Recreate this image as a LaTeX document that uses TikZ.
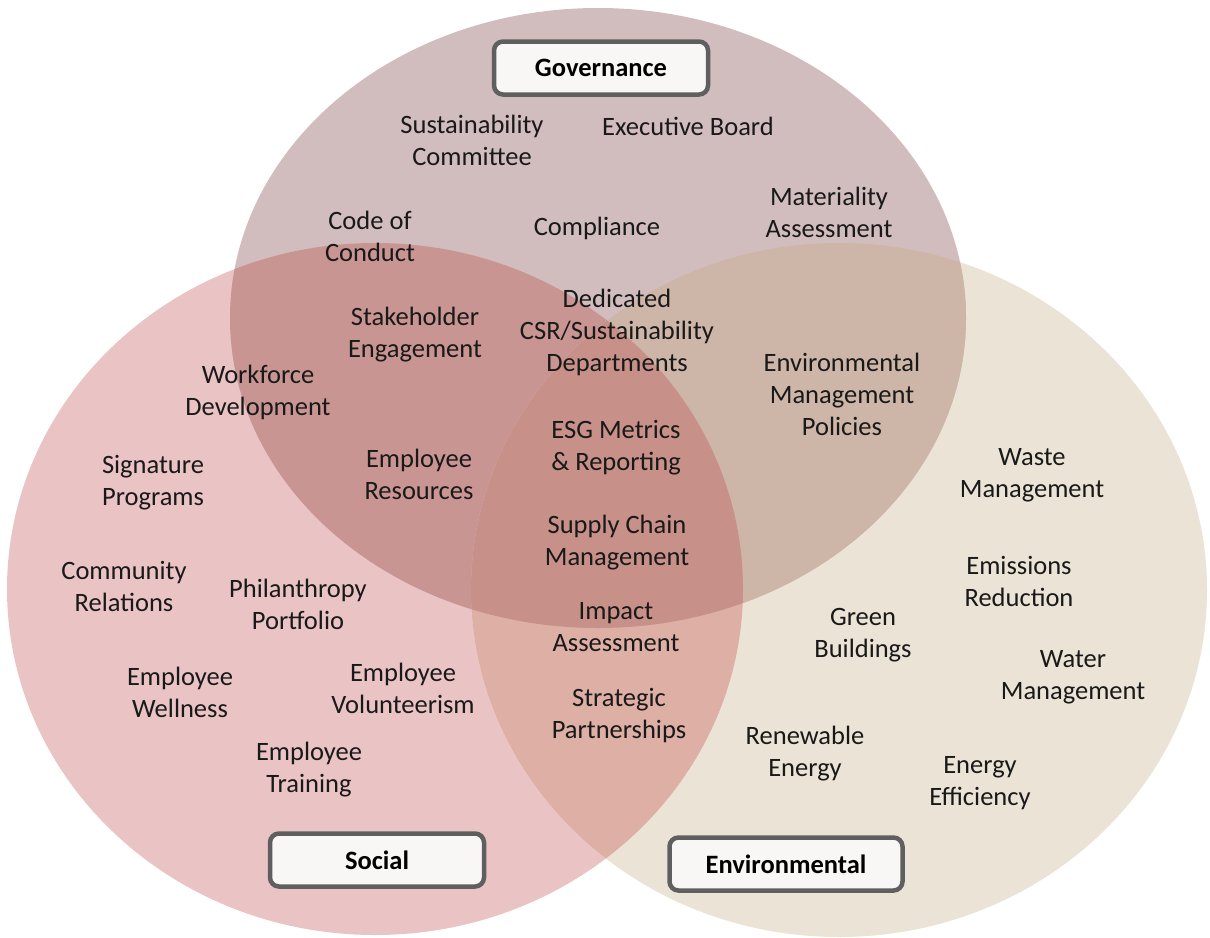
\documentclass[tikz,border=0pt]{standalone}
\usepackage{fontspec}
\setmainfont{Carlito}
\usetikzlibrary{positioning}

\definecolor{govcol}{RGB}{210,189,190}
\definecolor{soccol}{RGB}{234,196,197}
\definecolor{envcol}{RGB}{235,227,214}
\definecolor{socgov}{RGB}{201,149,147}
\definecolor{govenv}{RGB}{205,182,168}
\definecolor{socenv}{RGB}{221,175,165}
\definecolor{allcol}{RGB}{199,144,136}
\definecolor{boxline}{RGB}{95,95,95}
\definecolor{boxfill}{RGB}{249,247,246}

\begin{document}
\begin{tikzpicture}[x=1pt,y=-1pt,
 item/.style={align=center,text=black!90,font=\fontsize{26.5}{32}\selectfont},
 head node/.style={draw=boxline,line width=4.5pt,fill=boxfill,rounded corners=9pt,
   minimum width=214pt,minimum height=53pt,font=\fontsize{26.5}{30}\selectfont\bfseries}]
 \useasboundingbox (0,0) rectangle (1210,937);

 % circles
 \def\gov{(598,318) ellipse [x radius=368,y radius=310]}
 \def\soc{(375,589) ellipse [x radius=368,y radius=346]}
 \def\env{(839,590) ellipse [x radius=368,y radius=347]}
 \fill[soccol] \soc;
 \fill[envcol] \env;
 \fill[govcol] \gov;
 \begin{scope}
  \clip \soc; \fill[socgov] \gov;
 \end{scope}
 \begin{scope}
  \clip \gov; \fill[govenv] \env;
 \end{scope}
 \begin{scope}
  \clip \soc; \fill[socenv] \env;
 \end{scope}
 \begin{scope}
  \clip \soc; \clip \gov; \fill[allcol] \env;
 \end{scope}

 % headings
 \node[head node] (governance) at (601,68) {Governance};
 \node[head node] (social) at (377,860) {Social};
 \node[head node,minimum width=233pt] (environmental) at (786,864) {Environmental};

 % items
 \foreach \n/\x/\y/\t in {
   sustcom/472/140/{Sustainability\\Committee},
   board/688/126/{Executive Board},
   conduct/370/236/{Code of\\Conduct},
   compliance/597/228/{Compliance},
   materiality/829/212/{Materiality\\Assessment},
   csr/617/332/{Dedicated\\CSR/Sustainability\\Departments},
   stakeholder/415/335/{Stakeholder\\Engagement},
   workforce/258/392/{Workforce\\Development},
   envpolicy/842/394/{Environmental\\Management\\Policies},
   esg/616/448/{ESG Metrics\\\& Reporting},
   resources/419/474/{Employee\\Resources},
   signature/153/483/{Signature\\Programs},
   waste/1032/475/{Waste\\Management},
   supply/617/543/{Supply Chain\\Management},
   community/124/586/{Community\\Relations},
   philanthropy/298/604/{Philanthropy\\Portfolio},
   emissions/1019/581/{Emissions\\Reduction},
   impact/616/627/{Impact\\Assessment},
   green/863/635/{Green\\Buildings},
   wellness/180/692/{Employee\\Wellness},
   volunteer/403/688/{Employee\\Volunteerism},
   water/1073/677/{Water\\Management},
   partners/619/716/{Strategic\\Partnerships},
   renewable/805/754/{Renewable\\Energy},
   efficiency/980/783/{Energy\\Efficiency},
   training/309/770/{Employee\\Training}} {
  \node[item] (\n) at (\x,\y) {\t};}
\end{tikzpicture}
\end{document}
